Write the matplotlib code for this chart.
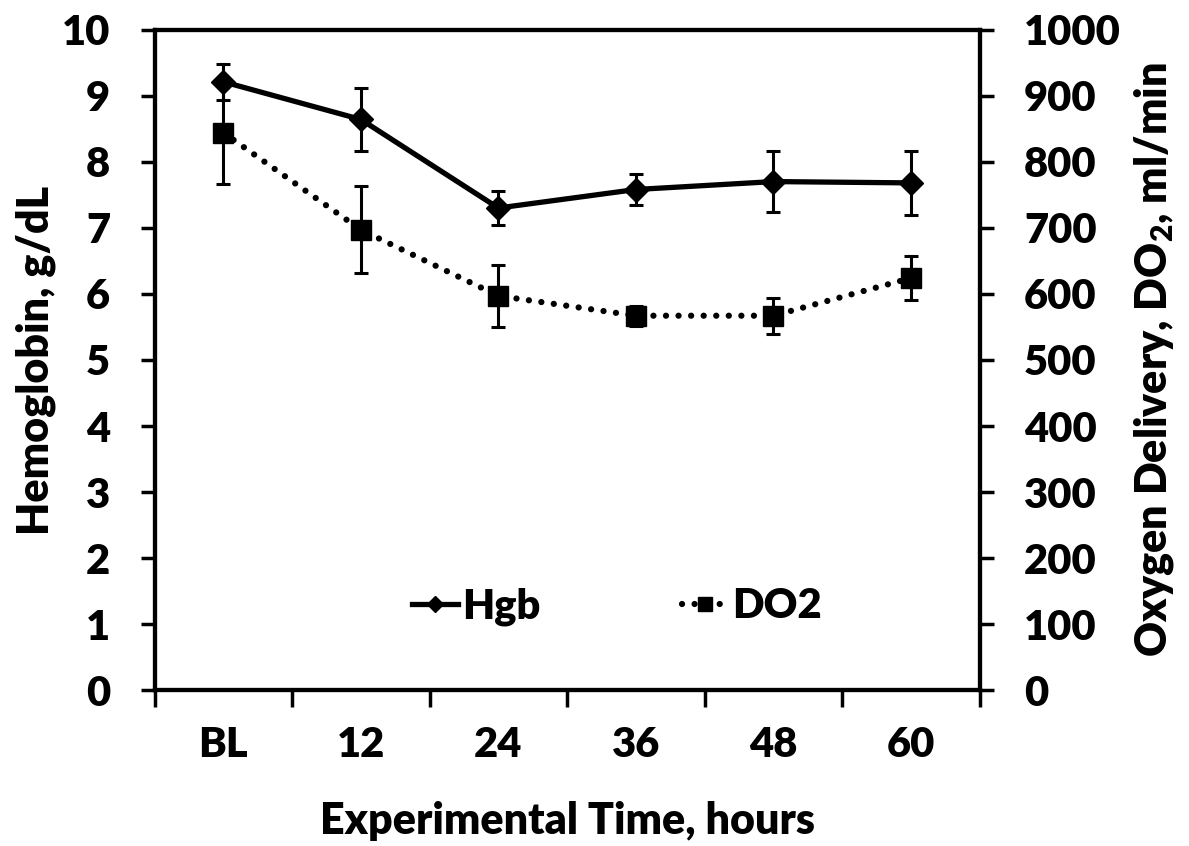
import matplotlib
matplotlib.use("Agg")
import matplotlib.pyplot as plt
from matplotlib.lines import Line2D
import numpy as np

# data
times = ["BL", "12", "24", "36", "48", "60"]
hgb = [9.21, 8.64, 7.30, 7.58, 7.70, 7.68]
hgb_err = [0.27, 0.47, 0.25, 0.24, 0.46, 0.48]
do2 = [844, 697, 597, 567, 567, 624]
do2_err = [78, 66, 47, 15, 27, 33]

plt.rcParams['font.family'] = ['Lato', 'DejaVu Sans']
plt.rcParams['font.weight'] = 'heavy'
plt.rcParams['mathtext.fontset'] = 'custom'
plt.rcParams['mathtext.rm'] = 'Lato:heavy'
plt.rcParams['mathtext.it'] = 'Lato:heavy'
plt.rcParams['mathtext.bf'] = 'Lato:heavy'

fs = 30
dotted = (0, (0.01, 2.0))

fig = plt.figure(figsize=(11.89, 8.46), dpi=100)
ax = fig.add_axes([0.130, 0.184, 0.694, 0.781])
ax2 = ax.twinx()

x = np.arange(len(times))

ax.errorbar(x, hgb, yerr=hgb_err, color='k', lw=3.8, marker='D', ms=12,
            ecolor='k', elinewidth=2.2, capsize=5, capthick=2.2)
ax2.errorbar(x, do2, yerr=do2_err, color='k', lw=4.5, ls=dotted,
             dash_capstyle='round', marker='s', ms=15,
             ecolor='k', elinewidth=2.2, capsize=5, capthick=2.2)

ax.set_xlim(-0.5, len(times) - 0.5)
ax.set_ylim(0, 10)
ax2.set_ylim(0, 1000)
ax.set_yticks(np.arange(0, 11, 1))
ax2.set_yticks(np.arange(0, 1001, 100))

# category ticks between groups, labels centred
ax.set_xticks(np.arange(-0.5, len(times)), minor=False)
ax.set_xticklabels([])
ax.set_xticks(x, minor=True)
ax.set_xticklabels(times, minor=True, fontsize=fs, fontweight='heavy')
ax.tick_params(axis='x', which='minor', length=0, pad=26)
ax.tick_params(axis='x', which='major', length=12, width=2.5, direction='out')

ax.tick_params(axis='y', length=10, width=2.5, direction='out', labelsize=fs, pad=22)
ax2.tick_params(axis='y', length=10, width=2.5, direction='out', labelsize=fs, pad=22)

for a in (ax, ax2):
    for sp in a.spines.values():
        sp.set_linewidth(3)

ax.set_xlabel("Experimental Time, hours", fontsize=31, fontweight='heavy', labelpad=26)
ax.set_ylabel("Hemoglobin, g/dL", fontsize=31, fontweight='heavy', labelpad=4)
ax2.set_ylabel("Oxygen Delivery, DO$_2$, ml/min", fontsize=31, fontweight='heavy', labelpad=8)

h1 = Line2D([], [], color='k', lw=3.8, marker='D', ms=8)
h2 = Line2D([], [], color='k', lw=4.5, ls=dotted, dash_capstyle='round', marker='s', ms=10)
ax.legend([h1, h2], ['Hgb', 'DO2'], loc='center', bbox_to_anchor=(0.56, 0.127),
          ncol=2, frameon=False, fontsize=fs, handlelength=1.1,
          columnspacing=3.4, handletextpad=0.1)

fig.savefig("out.png", dpi=100)
